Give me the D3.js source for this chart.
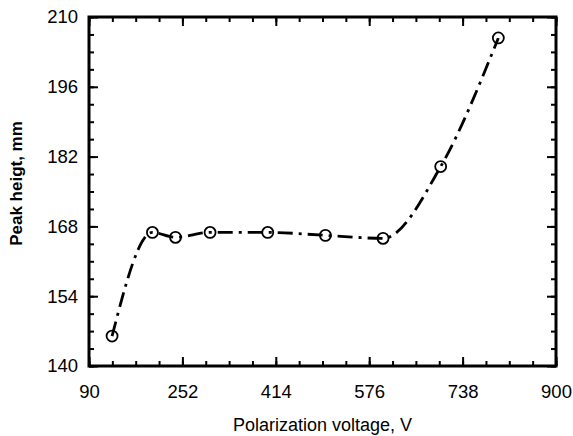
<!DOCTYPE html>
<html>
<head>
<meta charset="utf-8">
<script src="https://cdn.jsdelivr.net/npm/d3@7"></script>
<style>
  body { margin: 0; background: #fff; }
  svg { display: block; }
</style>
</head>
<body>
<svg id="chart" width="573" height="436"></svg>
<script>
// measured points
var voltage = [130, 200, 240, 300, 400, 500, 600, 700, 800];
var peakHeight = [146, 166.8, 165.8, 166.8, 166.8, 166.2, 165.6, 180, 205.8];
var xTicks = [90, 252, 414, 576, 738, 900];
var yTicks = [140, 154, 168, 182, 196, 210];

var svg = d3.select('#chart'),
	plotL = 89, plotR = 556, plotT = 17, plotB = 366;

var x = d3.scaleLinear().domain([90, 900]).range([plotL, plotR]);
var y = d3.scaleLinear().domain([140, 210]).range([plotB, plotT]);

// minor ticks, 4 per major step
var xMinor = d3.range(90, 900.1, 162 / 4);
var yMinor = d3.range(140, 210.1, 14 / 4);

function tickStyle(g) {
	g.select('.domain').remove();
	g.selectAll('line').attr('stroke', '#000').attr('stroke-width', 2);
}

// major ticks with labels (inward)
svg.append('g').attr('transform', 'translate(0,' + plotB + ')')
	.call(d3.axisBottom(x).tickValues(xTicks).tickSize(-9).tickPadding(19).tickFormat(d3.format('d')))
	.call(tickStyle)
	.selectAll('text').style('font', '18.5px "Liberation Sans", Arial, sans-serif').attr('fill', '#000');

svg.append('g').attr('transform', 'translate(' + plotL + ',0)')
	.call(d3.axisLeft(y).tickValues(yTicks).tickSize(-9).tickPadding(11).tickFormat(d3.format('d')))
	.call(tickStyle)
	.selectAll('text').style('font', '18.5px "Liberation Sans", Arial, sans-serif').attr('fill', '#000');

svg.append('g').attr('transform', 'translate(0,' + plotT + ')')
	.call(d3.axisTop(x).tickValues(xTicks).tickSize(-9).tickFormat(''))
	.call(tickStyle);
svg.append('g').attr('transform', 'translate(' + plotR + ',0)')
	.call(d3.axisRight(y).tickValues(yTicks).tickSize(-9).tickFormat(''))
	.call(tickStyle);

// minor ticks on all four sides
[['bottom', plotB], ['top', plotT]].forEach(function (s) {
	svg.append('g').attr('transform', 'translate(0,' + s[1] + ')')
		.call((s[0] == 'bottom' ? d3.axisBottom(x) : d3.axisTop(x)).tickValues(xMinor).tickSize(-5).tickFormat(''))
		.call(tickStyle);
});
[['left', plotL], ['right', plotR]].forEach(function (s) {
	svg.append('g').attr('transform', 'translate(' + s[1] + ',0)')
		.call((s[0] == 'left' ? d3.axisLeft(y) : d3.axisRight(y)).tickValues(yMinor).tickSize(-5).tickFormat(''))
		.call(tickStyle);
});

// frame
svg.append('rect')
	.attr('x', plotL).attr('y', plotT)
	.attr('width', plotR - plotL).attr('height', plotB - plotT)
	.attr('fill', 'none').attr('stroke', '#000').attr('stroke-width', 3);

// dash-dot curve
var pts = voltage.map(function (v, i) { return [v, peakHeight[i]]; });
var line = d3.line()
	.x(function (d) { return x(d[0]); })
	.y(function (d) { return y(d[1]); })
	.curve(d3.curveMonotoneX);

svg.append('path')
	.datum(pts)
	.attr('d', line)
	.attr('fill', 'none')
	.attr('stroke', '#000')
	.attr('stroke-width', 2.8)
	.attr('stroke-dasharray', '15,6,3,6');

svg.selectAll('circle.pt')
	.data(pts)
	.enter()
	.append('circle')
	.attr('class', 'pt')
	.attr('cx', function (d) { return x(d[0]); })
	.attr('cy', function (d) { return y(d[1]); })
	.attr('r', 5.5)
	.attr('fill', 'none')
	.attr('stroke', '#000')
	.attr('stroke-width', 1.8);

// axis titles
svg.append('text')
	.attr('x', (plotL + plotR) / 2).attr('y', 431)
	.attr('text-anchor', 'middle')
	.style('font', '18px "Liberation Sans", Arial, sans-serif')
	.text('Polarization voltage, V');

svg.append('text')
	.attr('transform', 'translate(22,' + ((plotT + plotB) / 2 - 8) + ') rotate(-90)')
	.attr('text-anchor', 'middle')
	.style('font', 'bold 17px "Liberation Sans", Arial, sans-serif')
	.text('Peak heigt, mm');
</script>
</body>
</html>
